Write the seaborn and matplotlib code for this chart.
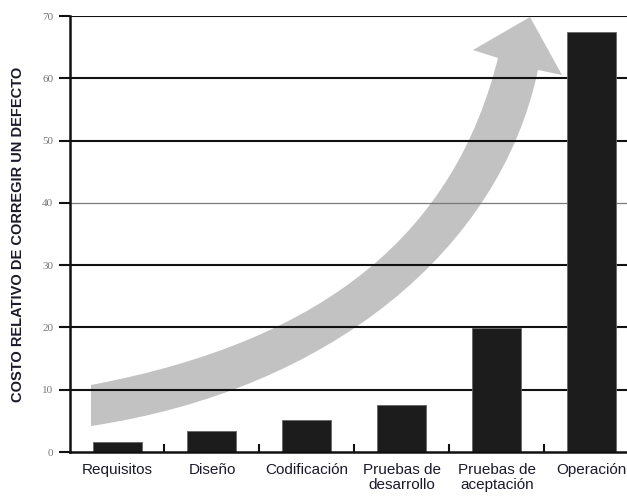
import numpy as np
import pandas as pd
import matplotlib
matplotlib.use("Agg")
import matplotlib.pyplot as plt
import seaborn as sns
from matplotlib.path import Path
from matplotlib.patches import PathPatch

# data
fases = ["Requisitos", "Diseño", "Codificación", "Pruebas de\ndesarrollo",
         "Pruebas de\naceptación", "Operación"]
costo = [1.6, 3.3, 5.2, 7.6, 19.9, 67.5]
yticks = [0, 10, 20, 30, 40, 50, 60, 70]

df = pd.DataFrame({"fase": fases, "costo": costo})

sns.set_theme(style="white")
plt.rcParams["font.family"] = ["Liberation Sans", "DejaVu Sans"]

fig = plt.figure(figsize=(6.27, 4.98), dpi=100)
ax = fig.add_axes([70 / 627, 46 / 498, 557 / 627, 436 / 498])

sns.barplot(data=df, x="fase", y="costo", color="#1c1c1c", width=0.516,
            edgecolor="#666666", linewidth=0.6, saturation=1, ax=ax, zorder=3)

ax.set_xlim(-0.495, 5.37)
ax.set_ylim(0, 70)

# horizontal grid lines (40 is lighter in the original)
for y in yticks[1:]:
    if y == 40:
        ax.axhline(y, color="#7a7a7a", lw=0.9, zorder=1)
    else:
        ax.axhline(y, color="#111111", lw=1.5, zorder=1)

# big curved grey arrow behind everything (axes fraction coords)
verts = [
    (0.0377, 0.1537),
    (0.4668, 0.2569), (0.6912, 0.5092), (0.7684, 0.9037),
    (0.7235, 0.9220),
    (0.8259, 0.9977),
    (0.8833, 0.8647),
    (0.8402, 0.8761),
    (0.7720, 0.4633), (0.4668, 0.1422), (0.0377, 0.0596),
    (0.0377, 0.1537),
]
codes = [Path.MOVETO,
         Path.CURVE4, Path.CURVE4, Path.CURVE4,
         Path.LINETO, Path.LINETO, Path.LINETO, Path.LINETO,
         Path.CURVE4, Path.CURVE4, Path.CURVE4,
         Path.CLOSEPOLY]
ax.add_patch(PathPatch(Path(verts, codes), facecolor="#c2c2c2", edgecolor="none",
                       transform=ax.transAxes, zorder=0.5))

ax.set_yticks(yticks)
ax.set_yticklabels([str(v) for v in yticks], fontfamily="Liberation Serif",
                   fontsize=8, color="#777777")
ax.tick_params(axis="y", left=True, direction="out", length=8, width=1.5,
               color="#111111", pad=4)
ax.set_xticks(range(len(fases)))
ax.set_xticklabels(fases, fontsize=11, color="#1a1a2a", linespacing=1.1)
ax.tick_params(axis="x", which="major", bottom=False, length=0, pad=8)
ax.set_xticks(np.arange(0.5, 5.0, 1.0), minor=True)
ax.tick_params(axis="x", which="minor", bottom=True, direction="in", length=6,
               width=1.5, color="#111111")

ax.set_xlabel("")
ax.set_ylabel("COSTO RELATIVO DE CORREGIR UN DEFECTO", fontsize=10.5,
              fontweight="bold", color="#1a1a2a")
ax.yaxis.set_label_coords(-0.08, 0.5)

for side in ["top", "right"]:
    ax.spines[side].set_visible(False)
for side in ["left", "bottom"]:
    ax.spines[side].set_color("#111111")
    ax.spines[side].set_linewidth(1.8)
    ax.spines[side].set_zorder(4)

fig.savefig("out.png", dpi=100)
